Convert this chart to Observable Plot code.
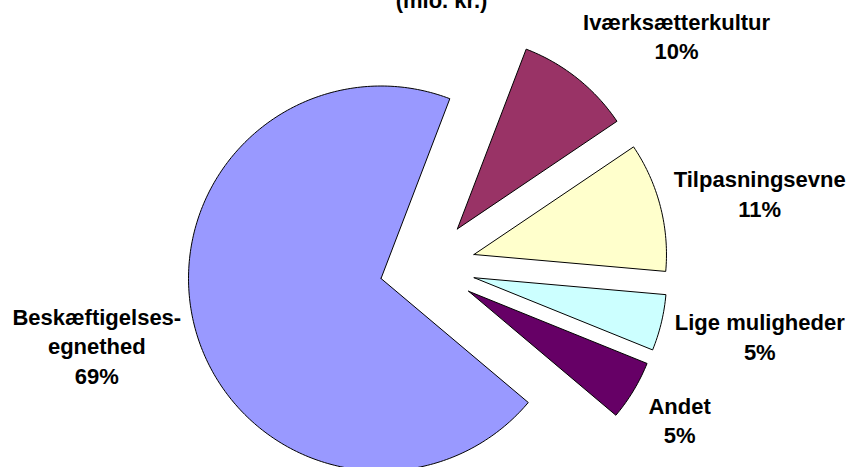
<!DOCTYPE html>
<html><head><meta charset="utf-8">
<script src="https://cdn.jsdelivr.net/npm/d3@7"></script>
<script src="https://cdn.jsdelivr.net/npm/@observablehq/plot@0.6"></script>
<style>html,body{margin:0;padding:0;background:#fff;} #chart{width:852px;height:467px;overflow:hidden}</style>
</head><body><div id="chart"></div>
<script>
const title = "(mio. kr.)";
const categories = ["Beskæftigelses-egnethed", "Iværksætterkultur", "Tilpasningsevne", "Lige muligheder", "Andet"];
const labelNames = ["Beskæftigelses-\negnethed", "Iværksætterkultur", "Tilpasningsevne", "Lige muligheder", "Andet"];
const values = [69.4, 9.7, 10.8, 4.7, 5.0];
const percentLabels = ["69%", "10%", "11%", "5%", "5%"];
const colors = ["#9999FF", "#993366", "#FFFFCC", "#CCFFFF", "#660066"];

const W = 852, H = 467, CX = 427, CY = 266, R = 192.5, EXPLODE = 48, GAP = 20, START = 130.1;
const FONT_SIZE = 22, LINE_H = 29.5;
const FONT = '"Liberation Sans", Arial, sans-serif';

const total = d3.sum(values);
const rad = a => a * Math.PI / 180;
let acc = START;
const slices = values.map((v, i) => {
  const a0 = acc, a1 = acc + v / total * 360;
  acc = a1;
  return {i, name: categories[i], a0, a1, mid: (a0 + a1) / 2};
});
const e = EXPLODE / R;
const pts = [];
for (const s of slices) {
  const ox = e * Math.sin(rad(s.mid)), oy = e * Math.cos(rad(s.mid));
  pts.push({name: s.name, x: ox, y: oy});
  const n = Math.max(4, Math.ceil(s.a1 - s.a0));
  for (let k = 0; k <= n; k++) {
    const a = s.a0 + (s.a1 - s.a0) * k / n;
    pts.push({name: s.name, x: ox + Math.sin(rad(a)), y: oy + Math.cos(rad(a))});
  }
  pts.push({name: s.name, x: ox, y: oy});
}

const ctx = document.createElement("canvas").getContext("2d");
ctx.font = `bold ${FONT_SIZE}px ${FONT}`;
const labels = slices.map(s => {
  const text = labelNames[s.i] + "\n" + percentLabels[s.i];
  const lines = text.split("\n");
  const w = d3.max(lines, l => ctx.measureText(l).width);
  const h = lines.length * LINE_H;
  const ra = 1 + e + GAP / R;
  const sn = Math.sin(rad(s.mid)), cs = Math.cos(rad(s.mid));
  return {
    text,
    x: ra * sn + Math.sign(sn) * 0.93 * w / 2 / R,
    y: ra * cs + 1.2 * (h / 2) * cs / R
  };
});

const chart = Plot.plot({
  width: W, height: H, margin: 0,
  x: {domain: [-CX / R, (W - CX) / R], axis: null},
  y: {domain: [-(H - CY) / R, CY / R], axis: null},
  color: {domain: categories, range: colors},
  style: {fontFamily: FONT, background: "white"},
  marks: [
    Plot.line(pts, {x: "x", y: "y", z: "name", fill: "name", stroke: "black", strokeWidth: 1, strokeLinejoin: "miter"}),
    Plot.text(labels, {x: "x", y: "y", text: "text", fontSize: FONT_SIZE, fontWeight: "bold", fontFamily: FONT,
      lineHeight: LINE_H / FONT_SIZE, fill: "black", lineAnchor: "middle", textAnchor: "middle"}),
    Plot.text([title], {frameAnchor: "top", text: d => d, dx: 15, dy: 7, lineAnchor: "bottom",
      fontSize: FONT_SIZE, fontWeight: "bold", fontFamily: FONT, fill: "black"})
  ]
});
document.getElementById("chart").appendChild(chart);
</script>
</body></html>
